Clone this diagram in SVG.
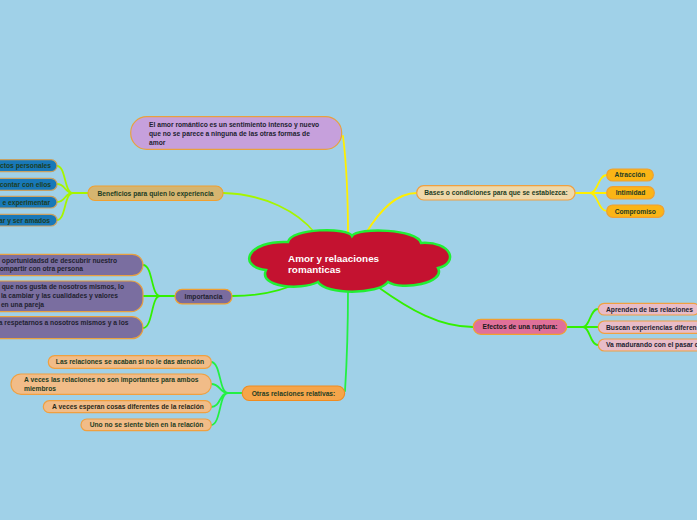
<svg xmlns="http://www.w3.org/2000/svg" width="697" height="520" viewBox="0 0 697 520">
<style>
text{font-family:"Liberation Sans","DejaVu Sans",sans-serif;font-weight:bold;font-size:6.7px;fill:#1d3d24}
.c{text-anchor:middle}
.e{text-anchor:end}
.n rect{stroke-width:1.2}
.conn path{fill:none;stroke-width:1.8;stroke-linecap:round}
.y{stroke:#ffef00}
.l{stroke:#a6f500}
.g{stroke:#33f000}
.g2{stroke:#22f044}
.dk{fill:#222230}
</style>
<rect width="697" height="520" fill="#a0d1e8"/>
<g id="connectors" class="conn">
<path class="y" d="M343,136 C346,160 348,200 348,236"/>
<path class="l" d="M223,193 C265,194 298,212 315,233"/>
<path class="y" d="M417,193 C396,193 380,210 366,233"/>
<path class="g" d="M232,296 C258,296 282,291 300,282"/>
<path class="g2" d="M348,289 C348,330 347,360 345,391"/>
<path class="g" d="M378,287 C410,310 440,327 473,327"/>
<path class="l" d="M88,193 L73,193 C64,193 66,166 57,166 M73,193 C64,193 66,184 57,184 M73,193 C64,193 66,202 57,202 M73,193 C64,193 66,220 57,220"/>
<path class="g" d="M175,296 L160,296 C151,296 153,265 143,265 M160,296 L143,296 M160,296 C151,296 153,328 143,328"/>
<path class="g2" d="M242,393 L228,393 C219,393 221,362 211,362 M228,393 C219,393 221,384 211,384 M228,393 C219,393 221,407 211,407 M228,393 C219,393 221,425 211,425"/>
<path class="y" d="M575,193 L590,193 C598,193 598,175 607,175 M590,193 L607,193 M590,193 C598,193 598,211 607,211"/>
<path class="g" d="M567,327 L583,327 C590,327 590,309 598,309 M583,327 L598,327 M583,327 C590,327 590,345 598,345"/>
</g>
<g id="center">
<path d="M288,242 C291,228 348,227 352,236 C358,227 418,229 421,243 C452,241 459,263 438,268 C446,283 402,291 388,282 C378,295 326,295 318,282 C300,291 258,287 266,270 C236,266 248,240 288,242 Z" fill="#c41230" stroke="#22ee33" stroke-width="2.5"/>
<text x="288" y="262" style="fill:#fff;font-size:9.9px">Amor y relaaciones</text>
<text x="288" y="272.5" style="fill:#fff;font-size:9.9px">romanticas</text>
</g>
<g id="definicion" class="n">
<rect x="130.7" y="116.7" width="211" height="32.6" rx="16" fill="#c6a0dc" stroke="#e8a040"/>
<text x="149" y="127" class="dk">El amor romántico es un sentimiento intenso y nuevo</text>
<text x="149" y="136" class="dk">que no se parece a ninguna de las otras formas de</text>
<text x="149" y="145" class="dk">amor</text>
</g>
<g id="beneficios" class="n">
<rect x="88" y="186" width="135" height="14.5" rx="7" fill="#d5b570" stroke="#f0a030"/>
<text x="155.5" y="195.6" class="c">Beneficios para quien lo experiencia</text>
</g>
<g id="ben1" class="n"><rect x="-60" y="159.7" width="117" height="12" rx="6" fill="#1878b8" stroke="#c8a060"/><text x="51" y="168.2" class="e">ctos personales</text></g>
<g id="ben2" class="n"><rect x="-60" y="178.3" width="117" height="12" rx="6" fill="#1878b8" stroke="#c8a060"/><text x="51" y="186.7" class="e">contar con ellos</text></g>
<g id="ben3" class="n"><rect x="-60" y="196.3" width="117" height="11.7" rx="6" fill="#1878b8" stroke="#c8a060"/><text x="50" y="204.6" class="e">e experimentar</text></g>
<g id="ben4" class="n"><rect x="-60" y="214.3" width="117" height="11.7" rx="6" fill="#1878b8" stroke="#c8a060"/><text x="50" y="222.6" class="e">ar y ser amados</text></g>
<g id="importancia" class="n">
<rect x="175" y="289.3" width="57" height="14.5" rx="7" fill="#7a6c9e" stroke="#f0a030"/>
<text x="203.5" y="298.9" class="c dk">Importancia</text>
</g>
<g id="imp1" class="n"><rect x="-60" y="254.3" width="203" height="21.4" rx="10.7" fill="#7a6ea0" stroke="#e8a040"/><text x="117" y="262.6" class="e dk">oportunidadsd de descubrir nuestro</text><text x="83" y="271.4" class="e dk">ompartir con otra persona</text></g>
<g id="imp2" class="n"><rect x="-60" y="281" width="203" height="30.7" rx="12" fill="#7a6ea0" stroke="#e8a040"/><text x="124" y="289.2" class="e dk">que nos gusta de nosotros mismos, lo</text><text x="118" y="298.3" class="e dk">la cambiar  y las cualidades y valores</text><text x="44" y="307.3" class="e dk">en una pareja</text></g>
<g id="imp3" class="n"><rect x="-60" y="316.7" width="203" height="22" rx="11" fill="#7a6ea0" stroke="#e8a040"/><text x="128.5" y="325.3" class="e dk">a respetarnos a nosotros mismos y a los</text></g>
<g id="otras" class="n">
<rect x="242.3" y="386" width="102.3" height="14.5" rx="7" fill="#f5a54a" stroke="#f08c20"/>
<text x="293.5" y="395.6" class="c">Otras relaciones relativas:</text>
</g>
<g id="otr1" class="n"><rect x="48.3" y="355.7" width="163" height="12.6" rx="6.3" fill="#f1bc88" stroke="#f0a040"/><text x="130" y="364.3" class="c">Las relaciones se acaban si no le das atención</text></g>
<g id="otr2" class="n"><rect x="11" y="374" width="200.3" height="20.3" rx="10" fill="#f1bc88" stroke="#f0a040"/><text x="24" y="382.4">A veces las relaciones no son importantes para ambos</text><text x="24" y="391.2">miembros</text></g>
<g id="otr3" class="n"><rect x="43.3" y="400.7" width="168" height="12" rx="6" fill="#f1bc88" stroke="#f0a040"/><text x="128" y="409" class="c" style="fill:#2a2a1a">A veces esperan cosas diferentes de la relación</text></g>
<g id="otr4" class="n"><rect x="81" y="419" width="130.3" height="11.7" rx="5.8" fill="#f1bc88" stroke="#f0a040"/><text x="146.5" y="427.2" class="c">Uno no se siente bien en la relación</text></g>
<g id="bases" class="n">
<rect x="416.7" y="185.7" width="158.3" height="14.3" rx="7" fill="#eed8aa" stroke="#f0a040"/>
<text x="496" y="195.2" class="c">Bases o condiciones para que se establezca:</text>
</g>
<g id="bas1" class="n"><rect x="606.7" y="169" width="46.6" height="12" rx="6" fill="#fbb516" stroke="#f0a030"/><text x="630" y="177.4" class="c">Atracción</text></g>
<g id="bas2" class="n"><rect x="606.7" y="186.7" width="47.6" height="12.3" rx="6" fill="#fbb516" stroke="#f0a030"/><text x="630.5" y="195.2" class="c">Intimidad</text></g>
<g id="bas3" class="n"><rect x="606.7" y="205" width="57.3" height="12.3" rx="6" fill="#fbb516" stroke="#f0a030"/><text x="635.3" y="213.5" class="c">Compromiso</text></g>
<g id="efectos" class="n">
<rect x="473.3" y="319.3" width="93.4" height="15" rx="7.5" fill="#e0709a" stroke="#f0a030"/>
<text x="520" y="329.2" class="c" style="fill:#1a1a1a">Efectos de una ruptura:</text>
</g>
<g id="efe1" class="n"><rect x="598.3" y="303.3" width="101" height="11.7" rx="5.8" fill="#e8bcc8" stroke="#f0a040"/><text x="606" y="311.5" class="dk">Aprenden de las relaciones</text></g>
<g id="efe2" class="n"><rect x="598.3" y="321" width="140" height="12.3" rx="6" fill="#e8bcc8" stroke="#f0a040"/><text x="606" y="329.5" class="dk">Buscan experiencias diferen</text></g>
<g id="efe3" class="n"><rect x="598.3" y="339" width="140" height="12" rx="6" fill="#e8bcc8" stroke="#f0a040"/><text x="606" y="347.4" class="dk">Va madurando con el pasar d</text></g>
</svg>
